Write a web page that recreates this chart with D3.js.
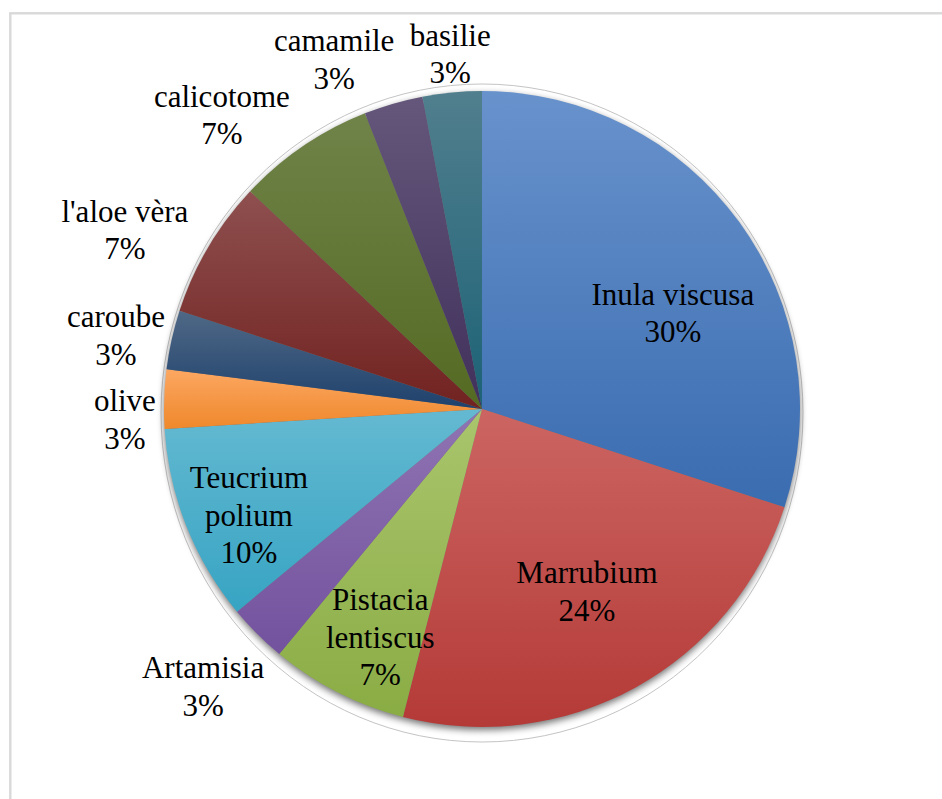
<!DOCTYPE html>
<html>
<head>
<meta charset="utf-8">
<script src="https://cdn.jsdelivr.net/npm/d3@7"></script>
</head>
<body style="margin:0">
<svg id="chart" width="942" height="799"></svg>
<script>
// Plant species and their share (%) of the survey
const species = ["Inula viscusa", "Marrubium", "Pistacia lentiscus", "Artamisia", "Teucrium polium",
                 "olive", "caroube", "l'aloe vèra", "calicotome", "camamile", "basilie"];
const shares = [30, 24, 7, 3, 10, 3, 3, 7, 7, 3, 3];

// Label lines as displayed on the chart
const labelLines = [["Inula viscusa"], ["Marrubium"], ["Pistacia", "lentiscus"], ["Artamisia"],
                    ["Teucrium", "polium"], ["olive"], ["caroube"], ["l'aloe vèra"],
                    ["calicotome"], ["camamile"], ["basilie"]];

// Fill gradients per slice: [top colour, bottom colour]
const sliceFills = [
  ["#6892cc", "#3a6cb0"], ["#cc6562", "#b43a37"], ["#aac56d", "#8aac44"], ["#8f74b2", "#73529e"],
  ["#64b9d1", "#37a4c3"], ["#fca762", "#ef882b"], ["#4f6886", "#1e416c"], ["#8e504f", "#712220"],
  ["#708349", "#546a22"], ["#65577b", "#40305b"], ["#517f8e", "#1c6276"]
];

// Label block centres, relative to the pie centre, in units of the radius
const labelAt = [
  [0.60, -0.30], [0.33, 0.575], [-0.32, 0.72], [-0.877, 0.874], [-0.733, 0.336],
  [-1.123, 0.035], [-1.151, -0.23], [-1.123, -0.561], [-0.818, -0.923], [-0.465, -1.097], [-0.10, -1.115]
];

const svg = d3.select("#chart");
const cx = 482, cy = 409, R = 318;
const fontSize = 31, lineH = 37.5;

// Chart frame
svg.append("rect")
  .attr("x", 10.3).attr("y", 13.3)
  .attr("width", 1000).attr("height", 900)
  .attr("fill", "none").attr("stroke", "#d9d9d9").attr("stroke-width", 2.4);

const defs = svg.append("defs");
const shadow = defs.append("filter").attr("id", "pieShadow")
  .attr("x", "-10%").attr("y", "-10%").attr("width", "120%").attr("height", "120%");
shadow.append("feGaussianBlur").attr("stdDeviation", 3.5);

sliceFills.forEach((c, i) => {
  const g = defs.append("linearGradient").attr("id", "fill" + i)
    .attr("x1", 0).attr("y1", 0).attr("x2", 0).attr("y2", 1);
  g.append("stop").attr("offset", 0).attr("stop-color", c[0]);
  g.append("stop").attr("offset", 1).attr("stop-color", c[1]);
});

const root = svg.append("g").attr("transform", `translate(${cx},${cy})`);

// Faint reflection ring and soft shadow beneath the pie
root.append("ellipse")
  .attr("cx", 0).attr("cy", 4).attr("rx", R + 3).attr("ry", R + 11)
  .attr("fill", "none").attr("stroke", "#c4c4c4").attr("stroke-width", 1);
root.append("circle")
  .attr("cx", 0).attr("cy", 3).attr("r", R)
  .attr("fill", "#000").attr("opacity", 0.55)
  .attr("filter", "url(#pieShadow)");

const pie = d3.pie().sort(null).value(d => d);
const arc = d3.arc().innerRadius(0).outerRadius(R);
const arcs = pie(shares);
const total = d3.sum(shares);

root.selectAll("path")
  .data(arcs)
  .join("path")
  .attr("d", arc)
  .attr("fill", (d, i) => `url(#fill${i})`);

// Data labels: one text element per line (name lines, then the percentage)
const labelRows = arcs.flatMap((d, i) => {
  const lines = labelLines[i].concat([d3.format(".0%")(d.value / total)]);
  const x = cx + labelAt[i][0] * R, y = cy + labelAt[i][1] * R;
  const firstBase = y - (lines.length - 1) * lineH / 2 + 10;
  return lines.map((t, k) => ({ t, x, y: firstBase + k * lineH }));
});

// Each line is centred on its x by measuring its rendered width
svg.selectAll("text")
  .data(labelRows)
  .join("text")
  .attr("y", d => d.y)
  .attr("font-size", fontSize)
  .style("font-family", '"Liberation Serif"')
  .text(d => d.t)
  .attr("x", function (d) { return d.x - this.getComputedTextLength() / 2; });
</script>
</body>
</html>
